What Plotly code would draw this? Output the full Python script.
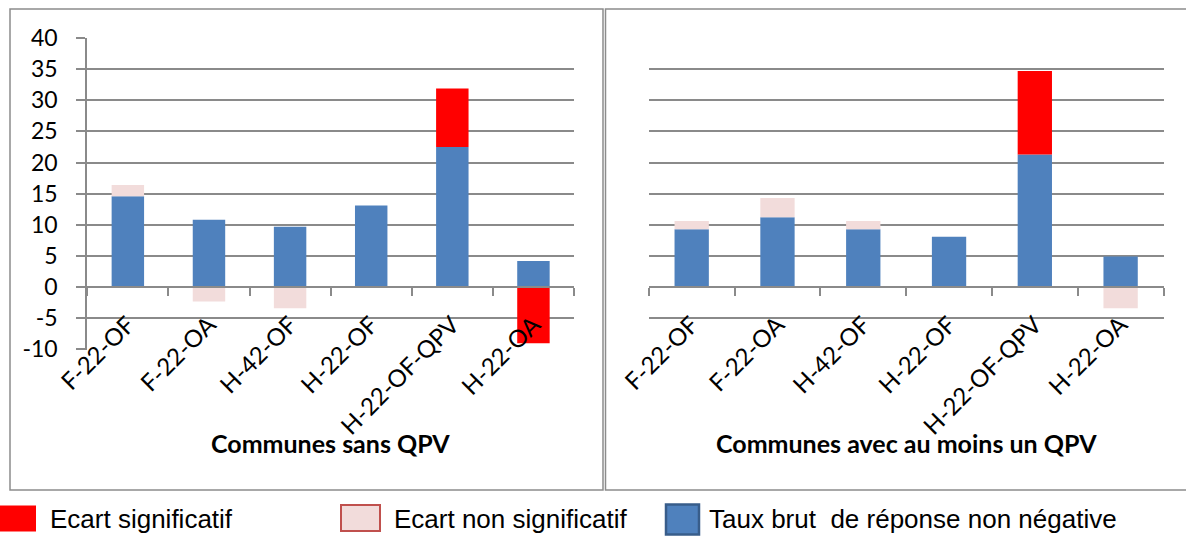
import plotly.graph_objects as go

# ---------------- data ----------------
categories = ["F-22-OF", "F-22-OA", "H-42-OF", "H-22-OF", "H-22-OF-QPV", "H-22-OA"]

# Communes sans QPV
sans_taux = [14.6, 10.8, 9.7, 13.1, 22.5, 4.2]
sans_non_sig = [1.8, -2.3, -3.4, None, None, None]
sans_sig = [None, None, None, None, 9.4, -9.0]

# Communes avec au moins un QPV
avec_taux = [9.3, 11.2, 9.3, 8.1, 21.3, 4.9]
avec_non_sig = [1.3, 3.1, 1.3, None, None, -3.4]
avec_sig = [None, None, None, None, 13.4, None]

y_tickvals = [-10, -5, 0, 5, 10, 15, 20, 25, 30, 35, 40]
y_ticktext = ["-10", "-5", "0", "5", "10", "15", "20", "25", "30", "35", "40"]

panel_titles = ["Communes sans QPV", "Communes avec au moins un QPV"]
legend_labels = ["Ecart significatif", "Ecart non significatif",
                 "Taux brut\u00a0 de réponse non négative"]

# ---------------- style ----------------
W, H = 1186, 538
BLUE = "#4f81bd"
RED = "#ff0000"
PINK = "#f2dcdb"
GRID = "#8a8a8a"
FONT = "Lato"


def px(x):
    return x / W


def py(y):
    return 1 - y / H


y_dom = [py(349.7), py(37.7)]
zero_pos = py(287.3)
x1_dom = [px(87.3), px(574)]
x2_dom = [px(648.8), px(1163.5)]

fig = go.Figure()

for xa, ya, taux, ns, sig in [("x", "y", sans_taux, sans_non_sig, sans_sig),
                              ("x2", "y2", avec_taux, avec_non_sig, avec_sig)]:
    fig.add_trace(go.Bar(x=categories, y=taux, marker=dict(color=BLUE, line=dict(width=0)),
                         xaxis=xa, yaxis=ya, showlegend=False))
    fig.add_trace(go.Bar(x=categories, y=ns, marker=dict(color=PINK, line=dict(width=0)),
                         xaxis=xa, yaxis=ya, showlegend=False))
    fig.add_trace(go.Bar(x=categories, y=sig, marker=dict(color=RED, line=dict(width=0)),
                         xaxis=xa, yaxis=ya, showlegend=False))

xcommon = dict(type="category", range=[-0.5, 5.5], anchor="free", position=zero_pos,
               showline=True, linecolor=GRID, linewidth=2, showgrid=False, zeroline=False,
               ticks="outside", tickson="boundaries", ticklen=8, tickwidth=2, tickcolor=GRID,
               tickangle=-45, tickfont=dict(family=FONT, size=24, color="black"),
               ticklabelstandoff=13, automargin=False, fixedrange=True)
ycommon = dict(range=[-10.05, 40.05], tickvals=y_tickvals, ticktext=y_ticktext,
               showgrid=True, gridcolor=GRID, gridwidth=1.75, zeroline=False,
               domain=y_dom, automargin=False, fixedrange=True)

fig.update_layout(
    width=W, height=H,
    margin=dict(l=0, r=0, t=0, b=0),
    paper_bgcolor="white", plot_bgcolor="rgba(0,0,0,0)",
    barmode="relative", bargap=0.6,
    showlegend=False,
    xaxis=dict(domain=x1_dom, **xcommon),
    xaxis2=dict(domain=x2_dom, **xcommon),
    yaxis=dict(anchor="x", showline=True, linecolor=GRID, linewidth=2,
               ticks="outside", ticklen=9, tickwidth=1.75, tickcolor=GRID,
               tickfont=dict(family=FONT, size=23, color="black"),
               ticklabelstandoff=14, **ycommon),
    yaxis2=dict(anchor="x2", matches="y", showline=False, ticks="",
                showticklabels=False, **ycommon),
)

# panel frames
fig.add_shape(type="rect", xref="paper", yref="paper",
              x0=px(10), x1=px(603), y0=py(490), y1=py(9),
              line=dict(color="#8c8c8c", width=1.5), layer="below")
fig.add_shape(type="rect", xref="paper", yref="paper",
              x0=px(605.5), x1=px(1195), y0=py(490), y1=py(9),
              line=dict(color="#8c8c8c", width=1.5), layer="below")

# panel titles
for title, dom in zip(panel_titles, [x1_dom, x2_dom]):
    fig.add_annotation(text="<b>" + title + "</b>", xref="paper", yref="paper",
                       x=(dom[0] + dom[1]) / 2, y=py(443), xanchor="center", yanchor="middle",
                       showarrow=False, font=dict(family=FONT, size=25, color="black"))

# legend (manual, large swatches)
swatches = [
    dict(x0=0, x1=36, y0=505.5, y1=531.5, fill=RED, line=RED, lw=0),
    dict(x0=341, x1=380, y0=505, y1=531, fill=PINK, line="#c0504d", lw=2),
    dict(x0=666, x1=699, y0=504.5, y1=534.5, fill=BLUE, line="#385d8a", lw=2.5),
]
text_x = [48, 392, 706.5]
for sw, label, tx in zip(swatches, legend_labels, text_x):
    fig.add_shape(type="rect", xref="paper", yref="paper",
                  x0=px(sw["x0"]), x1=px(sw["x1"]), y0=py(sw["y1"]), y1=py(sw["y0"]),
                  fillcolor=sw["fill"], line=dict(color=sw["line"], width=sw["lw"]))
    fig.add_annotation(text=label, xref="paper", yref="paper", x=px(tx), y=py(519),
                       xanchor="left", yanchor="middle", showarrow=False,
                       font=dict(family="Liberation Sans", size=26, color="black"))

fig.write_html("out.html", config={"displayModeBar": False},
               post_script="document.body.style.margin='0px';document.body.style.overflow='hidden';")
